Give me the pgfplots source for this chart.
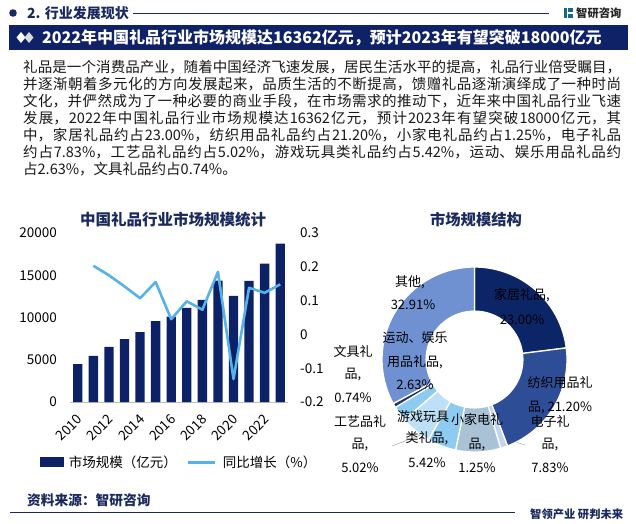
\documentclass[border=0pt]{standalone}
\usepackage{fontspec}
\setmainfont{Noto Sans CJK SC}
\usepackage{pgfplots}
\usepackage{pgfplotstable}
\pgfplotsset{compat=1.18}

\definecolor{navy}{HTML}{0D2266}
\definecolor{hdr}{HTML}{1B2A5E}
\definecolor{banner}{HTML}{0F2167}
\definecolor{growth}{HTML}{55B3EA}
\definecolor{pc0}{HTML}{0B2567}
\definecolor{pc1}{HTML}{2D4E97}
\definecolor{pc2}{HTML}{C5D3F2}
\definecolor{pc3}{HTML}{A9C2D6}
\definecolor{pc4}{HTML}{8DCBF0}
\definecolor{pc5}{HTML}{BEE0F6}
\definecolor{pc6}{HTML}{8DCBF0}
\definecolor{pc7}{HTML}{1E3572}
\definecolor{pc8}{HTML}{6F91D1}

\pgfplotsset{
  /pgf/number format/1000 sep={},
  every tick label/.append style={font=\fontsize{13.5}{13.5}\selectfont, text=black},
}

% market size (100 million yuan)
\pgfplotstableread{
year size
2010 4475
2011 5465
2012 6535
2013 7445
2014 8277
2015 9584
2016 10099
2017 11129
2018 12079
2019 14376
2020 12554
2021 14330
2022 16362
2023 18730
}\sizetab

% year-on-year growth
\pgfplotstableread{
year growth
2011 0.203
2012 0.175
2013 0.142
2014 0.107
2015 0.155
2016 0.045
2017 0.098
2018 0.073
2019 0.185
2020 -0.132
2021 0.138
2022 0.123
2023 0.148
}\growthtab

% structure, clockwise from the top
\pgfplotstableread{
part share
home 23.00
textile 21.20
smallapp 1.25
electronic 7.83
craft 5.02
toy 5.42
sport 2.63
stationery 0.74
other 32.91
}\pietab
\pgfplotstablecreatecol[create col/expr accum={\pgfmathaccuma+\thisrow{share}}{0}]{cum}\pietab

\begin{document}
\begin{tikzpicture}
\begin{scope}[x=1pt,y=1pt]
\path[use as bounding box, fill=white] (0,0) rectangle (636,523);

% header
\fill[hdr] (13,510) circle (3.8);
\node[anchor=west, inner sep=0pt, text=hdr, font=\bfseries\fontsize{14}{14}\selectfont] at (27,510) {2. 行业发展现状};
\draw[hdr, line width=0.8pt] (133,510) -- (549,510);
\fill[hdr!70!cyan] (564,505) rectangle (567,515);
\fill[hdr!70!cyan] (568,511) rectangle (573,515);
\fill[hdr!70!cyan] (568,505) rectangle (573,509);
\node[anchor=west, inner sep=0pt, text=black!85, font=\bfseries\fontsize{11.3}{11.3}\selectfont] at (576,510) {智研咨询};

% banner
\fill[banner] (9,498) rectangle (628,473);
\fill[white] (21,491) -- (25.5,485.5) -- (21,480) -- (16.5,485.5) -- cycle;
\fill[black!15] (29,491) -- (33.5,485.5) -- (29,480) -- (24.5,485.5) -- cycle;
\node[anchor=west, inner sep=0pt, text=white, font=\bfseries\fontsize{16}{16}\selectfont] at (42,485.5)
  {2022年中国礼品行业市场规模达16362亿元，预计2023年有望突破18000亿元};

% body text
\node[anchor=north west, inner sep=0pt, text=black!90] at (23,463) {\parbox{598pt}{\fontsize{14.5}{17}\selectfont
\XeTeXlinebreaklocale "zh"\XeTeXlinebreakskip=0pt plus 1.5pt
礼品是一个消费品产业，随着中国经济飞速发展，居民生活水平的提高，礼品行业倍受瞩目，\linebreak
并逐渐朝着多元化的方向发展起来，品质生活的不断提高，馈赠礼品逐渐演绎成了一种时尚\linebreak
文化，并俨然成为了一种必要的商业手段，在市场需求的推动下，近年来中国礼品行业飞速\linebreak
发展，2022年中国礼品行业市场规模达16362亿元，预计2023年有望突破18000亿元，其\linebreak
中，家居礼品约占23.00\%，纺织用品礼品约占21.20\%，小家电礼品约占1.25\%，电子礼品\linebreak
约占7.83\%，工艺品礼品约占5.02\%，游戏玩具类礼品约占5.42\%，运动、娱乐用品礼品约\linebreak
占2.63\%，文具礼品约占0.74\%。}};

% chart titles
\node[text=hdr, font=\bfseries\fontsize{15.5}{15.5}\selectfont] at (173,303) {中国礼品行业市场规模统计};
\node[text=hdr, font=\bfseries\fontsize{15.3}{15.3}\selectfont] at (476,303) {市场规模结构};

% donut leader lines
\draw[black!35, line width=0.5pt] (452,100) -- (392,77);
\draw[black!35, line width=0.5pt] (477,93) -- (525,78);

% footer
\node[anchor=west, inner sep=0pt, text=hdr, font=\bfseries\fontsize{13.7}{13.7}\selectfont] at (27,23) {资料来源：智研咨询};
\draw[hdr, line width=1pt] (10,11) -- (515,11);
\node[anchor=west, inner sep=0pt, text=hdr, font=\bfseries\fontsize{11.3}{11.3}\selectfont] at (530,9) {智领产业\ 研判未来};
\end{scope}

% bars
\begin{axis}[
  at={(70pt,121pt)}, anchor=south west, scale only axis,
  width=218pt, height=169pt,
  ybar, bar width=9.3pt,
  xmin=2009.5, xmax=2023.5, ymin=0, ymax=20000,
  axis x line*=bottom, axis y line*=left,
  x axis line style={draw=black!25, line width=0.8pt},
  y axis line style={draw=none},
  major tick length=0pt,
  scaled y ticks=false,
  xtick={2010,2012,...,2022},
  xticklabels={2010,2012,2014,2016,2018,2020,2022},
  ytick={0,5000,...,20000},
  yticklabels={0,5000,10000,15000,20000},
  xticklabel style={xshift=2pt, yshift=-15pt, rotate=45, anchor=east, inner sep=0pt},
  yticklabel style={anchor=east, inner sep=0pt, xshift=-13pt},
]
\addplot[fill=navy, draw=none] table[x=year, y=size] {\sizetab};
\end{axis}

% growth line
\begin{axis}[
  at={(70pt,121pt)}, anchor=south west, scale only axis,
  width=218pt, height=169pt,
  xmin=2009.5, xmax=2023.5, ymin=-0.2, ymax=0.3,
  axis x line=none, axis y line*=right,
  y axis line style={draw=none},
  major tick length=0pt,
  scaled y ticks=false,
  ytick={-0.2,-0.1,0,0.1,0.2,0.3},
  yticklabels={-0.2,-0.1,0,0.1,0.2,0.3},
  yticklabel style={anchor=west, inner sep=0pt, xshift=12pt},
  legend style={at={(0.5,-0.355)}, anchor=center, draw=none, fill=none,
    legend columns=2,
    nodes={font=\fontsize{13.5}{13.5}\selectfont},
    /tikz/every odd column/.append style={column sep=4pt},
    /tikz/every even column/.append style={column sep=8pt}},
]
\addlegendimage{legend image code/.code={\fill[navy] (0pt,-4.5pt) rectangle (23pt,4.5pt);}}
\addlegendentry{市场规模（亿元）}
\addplot[growth, line width=2.6pt, line join=round, mark=none,
  legend image code/.code={\draw[growth, line width=3pt] (0pt,0pt) -- (27pt,0pt);}]
  table[x=year, y=growth] {\growthtab};
\addlegendentry{同比增长（\%）}
\end{axis}

% donut
\begin{axis}[
  at={(474.5pt,163.5pt)}, anchor=center, scale only axis,
  width=185pt, height=185pt, hide axis, clip=false,
  xmin=-1, xmax=1, ymin=-1, ymax=1,
]
\pgfplotsinvokeforeach{0,...,8}{
  \pgfplotstablegetelem{#1}{cum}\of\pietab \let\pb\pgfplotsretval
  \pgfplotstablegetelem{#1}{share}\of\pietab \let\ps\pgfplotsretval
  \addplot[fill=pc#1, draw=white, line width=1.3pt, samples at={0,1,...,51}, variable=\t]
    ({(\t>50?0:1)*sin(3.6*(\pb-\ps+\ps*min(\t,50)/50))},
     {(\t>50?0:1)*cos(3.6*(\pb-\ps+\ps*min(\t,50)/50))}) -- cycle;
}
\addplot[fill=white, draw=none, domain=0:360, samples=121] ({0.53*cos(x)},{0.53*sin(x)});
\end{axis}

\begin{scope}[x=1pt,y=1pt, every node/.style={font=\fontsize{13}{13}\selectfont, text=black, inner sep=0pt}]
\node at (522,228) {家居礼品,};
\node at (522,203) {23.00\%};
\node at (410,241) {其他,};
\node at (413,218) {32.91\%};
\node at (415,185) {运动、娱乐};
\node at (415,161) {用品礼品,};
\node at (415,138) {2.63\%};
\node at (353,171) {文具礼};
\node at (353,148) {品,};
\node at (353,125) {0.74\%};
\node at (360,101) {工艺品礼};
\node at (360,78) {品,};
\node at (360,55) {5.02\%};
\node at (423,106) {游戏玩具};
\node at (427,85) {类礼品,};
\node at (427,60) {5.42\%};
\node at (477,103) {小家电礼};
\node at (477,78) {品,};
\node at (477,55) {1.25\%};
\node at (550,101) {电子礼};
\node at (550,78) {品,};
\node at (550,55) {7.83\%};
\node at (560,140) {纺织用品礼};
\node at (560,115) {品, 21.20\%};
\end{scope}
\end{tikzpicture}
\end{document}
